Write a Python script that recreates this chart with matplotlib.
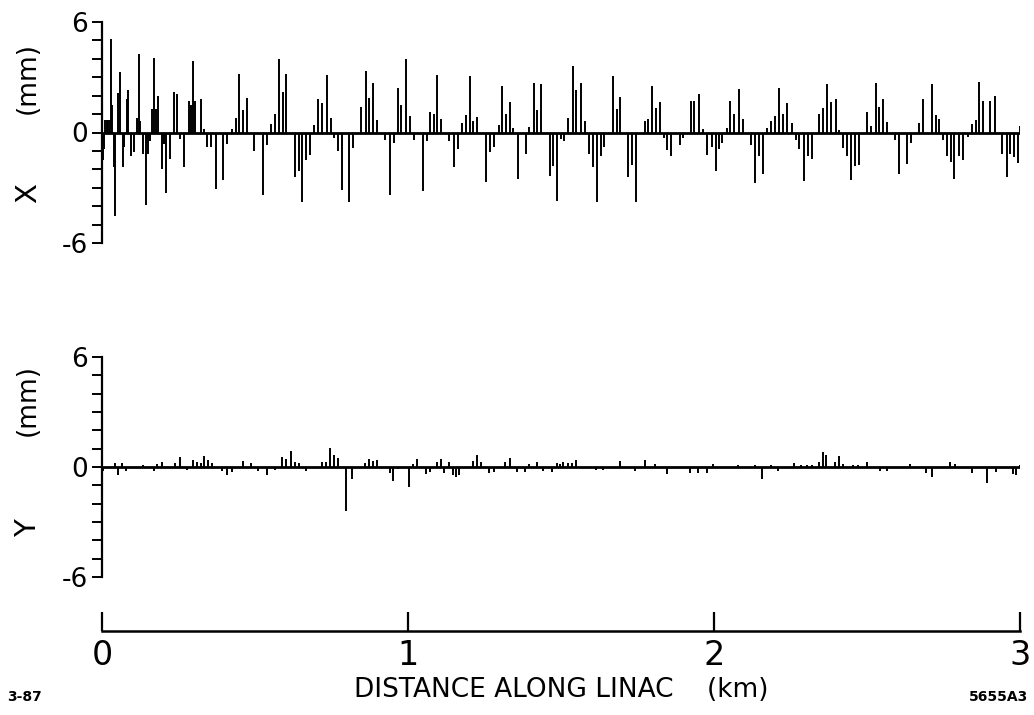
import matplotlib
matplotlib.use("Agg")
import matplotlib.pyplot as plt

# Horizontal orbit X (mm) at each BPM, position in km along the linac
x_km = [
    0.002, 0.005, 0.010, 0.015, 0.021, 0.026, 0.029, 0.034, 0.039, 0.042,
    0.053, 0.059, 0.068, 0.073, 0.081, 0.086, 0.095, 0.106, 0.113, 0.120,
    0.124, 0.135, 0.143, 0.149, 0.157, 0.164, 0.171, 0.176, 0.182, 0.195,
    0.203, 0.209, 0.222, 0.235, 0.246, 0.255, 0.269, 0.285, 0.291, 0.298,
    0.304, 0.324, 0.334, 0.344, 0.356, 0.371, 0.397, 0.410, 0.424, 0.437,
    0.449, 0.460, 0.473, 0.498, 0.527, 0.538, 0.551, 0.565, 0.579, 0.593,
    0.601, 0.631, 0.645, 0.655, 0.667, 0.680, 0.693, 0.707, 0.718, 0.734,
    0.747, 0.758, 0.772, 0.783, 0.808, 0.821, 0.846, 0.862, 0.874, 0.887,
    0.900, 0.925, 0.941, 0.954, 0.966, 0.977, 0.993, 1.007, 1.020, 1.048,
    1.061, 1.072, 1.085, 1.096, 1.108, 1.135, 1.151, 1.164, 1.178, 1.188,
    1.203, 1.213, 1.227, 1.255, 1.268, 1.282, 1.297, 1.308, 1.319, 1.333,
    1.344, 1.361, 1.385, 1.396, 1.412, 1.423, 1.435, 1.464, 1.475, 1.488,
    1.500, 1.511, 1.522, 1.538, 1.549, 1.565, 1.578, 1.592, 1.603, 1.619,
    1.630, 1.642, 1.669, 1.682, 1.693, 1.718, 1.731, 1.745, 1.775, 1.785,
    1.798, 1.810, 1.824, 1.837, 1.847, 1.859, 1.889, 1.900, 1.924, 1.936,
    1.951, 1.963, 1.978, 1.992, 2.005, 2.016, 2.027, 2.041, 2.052, 2.065,
    2.082, 2.094, 2.121, 2.134, 2.147, 2.159, 2.172, 2.186, 2.199, 2.213,
    2.224, 2.238, 2.254, 2.267, 2.278, 2.295, 2.308, 2.320, 2.344, 2.357,
    2.370, 2.382, 2.398, 2.410, 2.423, 2.434, 2.448, 2.461, 2.474, 2.501,
    2.513, 2.528, 2.540, 2.553, 2.566, 2.592, 2.606, 2.632, 2.644, 2.671,
    2.684, 2.713, 2.724, 2.736, 2.749, 2.760, 2.774, 2.785, 2.801, 2.815,
    2.829, 2.842, 2.855, 2.866, 2.878, 2.902, 2.917, 2.940, 2.956, 2.967,
    2.980, 2.992, 2.999,
]
x_mm = [
    -1.5, -0.9, 0.7, 0.7, 0.7, 0.7, 5.1, 1.5, -1.9, -4.55,
    2.15, 3.3, -1.85, -0.8, 1.8, 2.3, -1.3, -1.05, 0.8, 4.25,
    0.6, -1.15, -3.95, -1.15, -0.45, 1.25, 4.05, 1.25, 2.0, -2.0,
    -0.6, -3.3, -1.45, 2.2, 2.1, -0.35, -1.9, 1.7, 1.5, 3.9,
    1.7, 1.8, 0.2, -0.8, -0.8, -3.05, -2.6, -0.6, 0.2, 0.8,
    3.2, 1.2, 1.9, -1.0, -3.4, -0.7, 0.45, 1.0, 4.0, 2.2,
    3.2, -2.4, -2.1, -3.8, -1.5, -1.2, 0.4, 1.8, 1.6, 3.1,
    0.8, -0.3, -1.0, -3.1, -3.8, -0.85, 1.4, 3.35, 1.9, 2.7,
    0.7, -0.4, -3.4, -0.55, 2.4, 1.5, 4.0, 0.9, -0.4, -3.2,
    -0.45, 1.1, 1.0, 3.1, 0.75, -0.45, -1.85, -0.9, 0.5, 0.95,
    3.05, 0.65, 0.85, -2.7, -1.05, -0.8, 0.4, 2.5, 1.0, 1.65,
    0.25, -2.55, -1.15, 0.3, 2.7, 1.2, 2.65, -2.35, -1.8, -3.7,
    -0.35, -0.45, 0.8, 3.6, 2.3, 2.7, 0.65, -1.15, -1.9, -3.75,
    -1.3, -0.8, 3.05, 1.25, 1.95, -2.4, -1.75, -3.75, 0.6, 0.75,
    2.5, 1.35, 1.65, -0.3, -0.95, -1.25, -0.7, -0.3, 1.7, 1.7,
    2.1, 0.2, -1.2, -0.8, -2.1, -0.9, -0.55, 0.25, 1.7, 1.0,
    2.35, 0.75, -0.7, -2.75, -1.25, -2.25, 0.25, 0.65, 0.9, 2.4,
    1.0, 1.6, 0.5, -0.4, -0.9, -2.65, -1.25, -1.45, 1.0, 1.35,
    2.65, 1.65, 1.8, 0.15, -0.85, -1.3, -2.6, -1.8, -1.75, 1.1,
    0.35, 2.7, 1.4, 1.8, 0.55, -0.4, -2.25, -1.7, -0.55, 0.5,
    1.8, 2.65, 0.95, 0.75, -0.4, -1.25, -1.6, -2.5, -1.25, -1.5,
    -0.25, 0.45, 0.7, 2.75, 1.7, 1.7, 2.0, -1.15, -2.4, -1.15,
    -1.35, -1.65, 0.35,
]

# Vertical orbit Y (mm)
y_km = [
    0.000, 0.004, 0.042, 0.051, 0.064, 0.077, 0.135, 0.171, 0.179, 0.195,
    0.239, 0.255, 0.277, 0.298, 0.309, 0.323, 0.334, 0.347, 0.358, 0.391,
    0.410, 0.424, 0.462, 0.487, 0.511, 0.538, 0.565, 0.589, 0.600, 0.617,
    0.630, 0.644, 0.666, 0.718, 0.732, 0.746, 0.758, 0.770, 0.796, 0.818,
    0.859, 0.872, 0.887, 0.900, 0.941, 0.952, 0.968, 1.004, 1.017, 1.031,
    1.059, 1.072, 1.096, 1.107, 1.119, 1.134, 1.148, 1.157, 1.167, 1.213,
    1.226, 1.238, 1.266, 1.282, 1.317, 1.333, 1.355, 1.383, 1.396, 1.420,
    1.442, 1.471, 1.486, 1.497, 1.508, 1.522, 1.535, 1.549, 1.616, 1.638,
    1.693, 1.742, 1.774, 1.807, 1.845, 1.922, 1.949, 1.976, 1.998, 2.079,
    2.134, 2.156, 2.185, 2.210, 2.261, 2.283, 2.303, 2.319, 2.344, 2.357,
    2.366, 2.395, 2.410, 2.423, 2.455, 2.472, 2.499, 2.542, 2.564, 2.641,
    2.693, 2.711, 2.771, 2.787, 2.842, 2.891, 2.921, 2.976, 2.987, 2.999,
]
y_mm = [
    1.0, -0.2, 0.2, -0.45, 0.2, -0.2, 0.1, -0.2, 0.15, 0.3,
    0.2, 0.55, -0.15, 0.4, 0.3, 0.2, 0.6, 0.4, 0.2, -0.2,
    -0.45, -0.27, 0.35, 0.2, -0.2, -0.45, -0.15, 0.55, 0.45, 0.85,
    0.27, 0.2, -0.2, 0.27, 0.27, 1.05, 0.67, 0.5, -2.4, -0.65,
    0.2, 0.45, 0.33, 0.4, -0.35, -0.75, -0.1, -1.1, 0.15, 0.45,
    -0.4, -0.25, 0.3, 0.45, -0.3, 0.3, -0.45, -0.55, -0.45, 0.35,
    0.65, 0.27, -0.3, -0.25, 0.27, 0.5, -0.25, -0.25, 0.15, 0.27,
    -0.2, -0.25, 0.2, 0.15, 0.27, 0.2, 0.2, 0.4, -0.15, -0.15,
    0.35, -0.2, 0.4, 0.15, -0.4, -0.3, -0.3, -0.3, 0.15, 0.1,
    0.1, -0.65, 0.13, -0.2, 0.2, 0.13, 0.13, 0.13, 0.25, 0.8,
    0.67, 0.3, 0.58, 0.18, 0.13, 0.13, 0.25, -0.2, -0.2, 0.18,
    -0.3, -0.55, 0.3, 0.18, -0.3, -0.85, -0.25, -0.4, -0.45, 0.13,
]

km_ticks = [0, 1, 2, 3]
mm_ticks = list(range(-6, 7))
mm_labels = ["-6" if t == -6 else ("6" if t == 6 else ("0" if t == 0 else "")) for t in mm_ticks]

plt.rcParams["font.family"] = "DejaVu Sans"

W, H = 1034, 715
fig = plt.figure(figsize=(W / 100, H / 100), dpi=100)


def px_box(left, top, right, bottom):
    return [left / W, 1 - bottom / H, (right - left) / W, (bottom - top) / H]


def orbit_panel(rect, pos, vals):
    ax = fig.add_axes(rect)
    ax.vlines(pos, 0, vals, color="black", lw=1.4)
    ax.axhline(0, color="black", lw=2.0)
    ax.set_xlim(0, 3)
    ax.set_ylim(-6, 6)
    for s in ["top", "right", "bottom"]:
        ax.spines[s].set_visible(False)
    ax.spines["left"].set_linewidth(1.6)
    ax.set_xticks([])
    ax.set_yticks(mm_ticks)
    ax.set_yticklabels(mm_labels, fontsize=19)
    ax.tick_params(axis="y", direction="out", length=7, width=1.4, pad=3)
    return ax


ax_x = orbit_panel(px_box(102, 22, 1020, 243), x_km, x_mm)
ax_y = orbit_panel(px_box(102, 357, 1020, 577), y_km, y_mm)

# separate distance scale below
ax_d = fig.add_axes(px_box(102, 600, 1020, 631))
ax_d.set_xlim(0, 3)
ax_d.set_ylim(0, 1)
for s in ["top", "right", "left"]:
    ax_d.spines[s].set_visible(False)
ax_d.spines["bottom"].set_linewidth(1.8)
ax_d.set_yticks([])
ax_d.set_xticks(km_ticks)
ax_d.set_xticklabels([str(k) for k in km_ticks], fontsize=24)
ax_d.tick_params(axis="x", direction="in", length=14, width=1.6, pad=6)

# labels
fig.text(28 / W, 1 - 78 / H, "(mm)", rotation=90, fontsize=19, ha="center", va="center")
fig.text(28 / W, 1 - 193 / H, "X", rotation=90, fontsize=21, ha="center", va="center")
fig.text(28 / W, 1 - 400 / H, "(mm)", rotation=90, fontsize=19, ha="center", va="center")
fig.text(28 / W, 1 - 528 / H, "Y", rotation=90, fontsize=21, ha="center", va="center")
fig.text(561 / W, 1 - 690 / H, "DISTANCE ALONG LINAC    (km)", fontsize=19,
         ha="center", va="center")
fig.text(24 / W, 1 - 697 / H, "3-87", fontsize=10, fontweight="bold",
         ha="center", va="center")
fig.text(999 / W, 1 - 697 / H, "5655A3", fontsize=10, fontweight="bold",
         ha="center", va="center")

fig.savefig("out.png", dpi=100, facecolor="white")
